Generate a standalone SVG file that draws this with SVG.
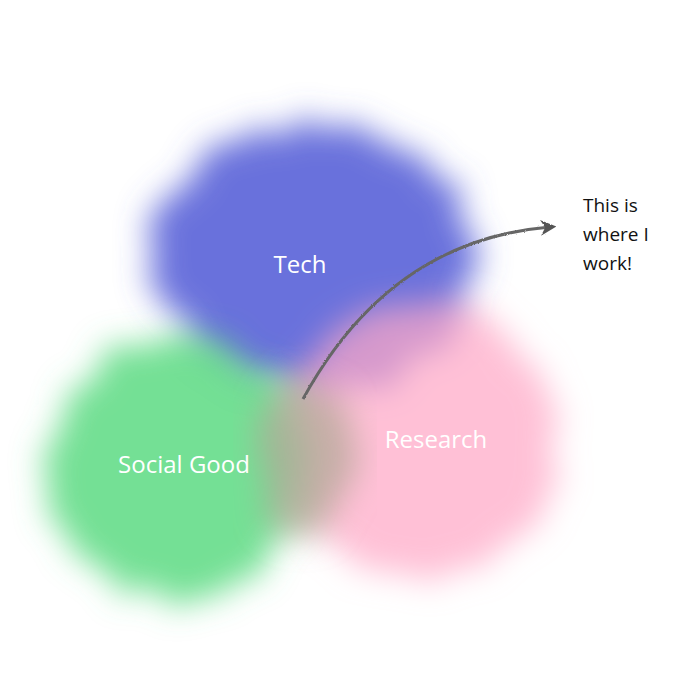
<svg xmlns="http://www.w3.org/2000/svg" width="697" height="697" viewBox="0 0 697 697">
<defs>
<style>
.lbl{font-family:"Open Sans","DejaVu Sans",sans-serif;fill:#fff;font-size:24px;text-anchor:middle}
.note{font-family:"Open Sans","DejaVu Sans",sans-serif;fill:#111;font-size:19px}
</style>
<filter id="wc" x="-30%" y="-30%" width="160%" height="160%">
<feTurbulence type="fractalNoise" baseFrequency="0.03" numOctaves="3" seed="4" result="n"/>
<feDisplacementMap in="SourceGraphic" in2="n" scale="36" xChannelSelector="R" yChannelSelector="G" result="d"/>
<feGaussianBlur in="d" stdDeviation="16"/>
</filter>
<filter id="rough" x="-10%" y="-10%" width="120%" height="120%">
<feTurbulence type="fractalNoise" baseFrequency="0.9" numOctaves="1" seed="2" result="n"/>
<feDisplacementMap in="SourceGraphic" in2="n" scale="2.5" xChannelSelector="R" yChannelSelector="G"/>
</filter>
<marker id="ah" viewBox="0 0 10 10" refX="6" refY="5" markerWidth="16" markerHeight="16" orient="auto" markerUnits="userSpaceOnUse">
<path d="M0,0 L10,5 L0,10 L3,5 z" fill="#555"/>
</marker>
</defs>
<rect width="697" height="697" fill="#fff"/>
<g id="tech" filter="url(#wc)">
<ellipse cx="312" cy="258" rx="160" ry="135" fill="#5a63d8" opacity="0.9"/>
</g>
<g id="research" filter="url(#wc)">
<ellipse cx="418" cy="440" rx="138" ry="138" fill="#ffa8c6" opacity="0.72"/>
</g>
<g id="social" filter="url(#wc)">
<ellipse cx="178" cy="468" rx="128" ry="132" fill="#55d97e" opacity="0.82"/>
</g>
<g id="center" filter="url(#wc)">
<ellipse cx="305" cy="455" rx="45" ry="80" fill="#b4a898" opacity="0.75"/>
</g>
<g id="labels">
<text class="lbl" x="300" y="273">Tech</text>
<text class="lbl" x="184" y="473">Social Good</text>
<text class="lbl" x="436" y="448">Research</text>
</g>
<g id="connectors">
<path d="M303,399 Q390,240 550,227" fill="none" stroke="#666" stroke-width="3" marker-end="url(#ah)" filter="url(#rough)"/>
</g>
<g id="note">
<text class="note" x="583" y="212">This is</text>
<text class="note" x="583" y="241">where I</text>
<text class="note" x="583" y="270">work!</text>
</g>
</svg>
